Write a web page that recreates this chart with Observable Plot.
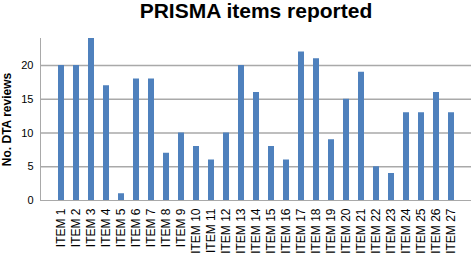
<!DOCTYPE html>
<html>
<head>
<meta charset="utf-8">
<script src="https://cdn.jsdelivr.net/npm/d3@7"></script>
<script src="https://cdn.jsdelivr.net/npm/@observablehq/plot@0.6"></script>
<style>
  body { margin: 0; background: #fff; font-family: "Liberation Sans", Arial, sans-serif; }
  #wrap { width: 472px; }
  #title { height: 30px; box-sizing: border-box; padding-left: 40px; text-align: center; font-weight: bold; font-size: 21px; line-height: 21px; color: #000; }
  svg { display: block; font-family: "Liberation Sans", Arial, sans-serif; }
</style>
</head>
<body>
<div id="wrap">
  <div id="title">PRISMA items reported</div>
  <div id="chart"></div>
</div>
<script>
const items = ["ITEM 1","ITEM 2","ITEM 3","ITEM 4","ITEM 5","ITEM 6","ITEM 7","ITEM 8","ITEM 9","ITEM 10","ITEM 11","ITEM 12","ITEM 13","ITEM 14","ITEM 15","ITEM 16","ITEM 17","ITEM 18","ITEM 19","ITEM 20","ITEM 21","ITEM 22","ITEM 23","ITEM 24","ITEM 25","ITEM 26","ITEM 27"];
const reviews = [20,20,24,17,1,18,18,7,10,8,6,10,20,16,8,6,22,21,9,15,19,5,4,13,13,16,13];
const yTicks = [0,5,10,15,20];
const gridValues = [5,10,15,20];
const yLabel = "No. DTA reviews";

const data = items.map((item, i) => ({item, value: reviews[i]}));

const chart = Plot.plot({
  width: 472,
  height: 223,
  marginTop: 8,
  marginBottom: 53,
  marginLeft: 40,
  marginRight: 1,
  x: {domain: items, padding: 0.625, label: null},
  y: {domain: [0, 24], label: null},
  marks: [
    Plot.ruleY(gridValues, {stroke: "#a9a9a9", strokeWidth: 1.5}),
    Plot.ruleY([0], {stroke: "#a9a9a9", strokeWidth: 1}),
    Plot.frame({anchor: "left", stroke: "#a9a9a9"}),
    Plot.barY(data, {x: "item", y: "value", fill: "#4f81bd"}),
    Plot.axisX({tickSize: 0, tickPadding: 8, tickRotate: -90, fontSize: 12, fill: "#000"}),
    Plot.axisY(yTicks, {tickSize: 0, tickPadding: 7, fontSize: 11, fill: "#000", label: null}),
    Plot.text([yLabel], {frameAnchor: "left", rotate: -90, dx: -33, textAnchor: "middle", fontWeight: "bold", fontSize: 12, fill: "#000"})
  ]
});
document.getElementById("chart").appendChild(chart);
</script>
</body>
</html>
